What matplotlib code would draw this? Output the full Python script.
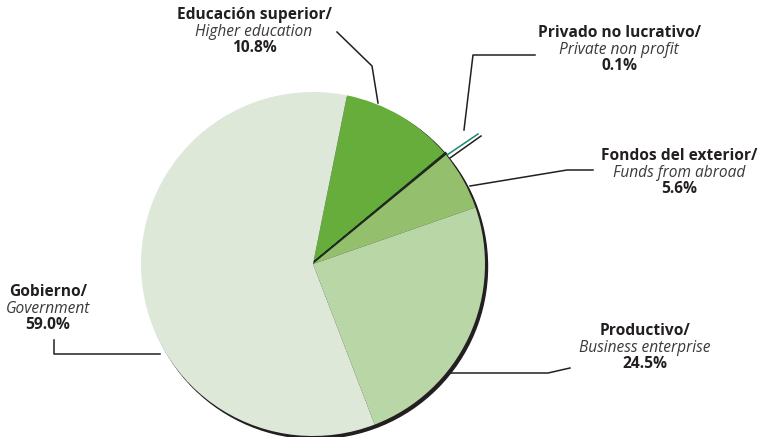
import numpy as np
import matplotlib.pyplot as plt
from matplotlib.patches import Circle

# datos (orden horario desde arriba)
sectores = ['Educación superior/', 'Privado no lucrativo/', 'Fondos del exterior/',
            'Productivo/', 'Gobierno/']
sectores_en = ['Higher education', 'Private non profit', 'Funds from abroad',
               'Business enterprise', 'Government']
valores = [10.8, 0.1, 5.6, 24.5, 59.0]
colores = ['#66ad3b', '#1f2a1f', '#94c06e', '#b8d6a6', '#dde8d9']

W, H = 760, 437
fig = plt.figure(figsize=(W / 100, H / 100), dpi=100)
ax = fig.add_axes([0, 0, 1, 1])

cx, cy, r = 313, H - 264, 172

# sombra oscura abajo/derecha
ax.add_patch(Circle((cx + 2.5, cy - 2.6), r, color='#231f20', zorder=1))

wedges, _ = ax.pie(valores, colors=colores, startangle=78.6, counterclock=False,
                   center=(cx, cy), radius=r, frame=True,
                   wedgeprops=dict(linewidth=0))
for w in wedges:
    w.set_zorder(2)
wedges[1].set_edgecolor('#1f2a1f')
wedges[1].set_linewidth(2.6)
ax.set_xlim(0, W)
ax.set_ylim(0, H)
ax.set_aspect('equal')
ax.axis('off')

def y(p):
    return H - p

# líneas guía
lk = dict(color='#231f20', lw=1.1, zorder=3)
ax.plot([337, 372, 378], [y(32), y(66), y(103)], **lk)
ax.plot([535, 473, 464], [y(55), y(55), y(130)], **lk)
ax.plot([470, 567, 593], [y(186), y(170), y(170)], **lk)
ax.plot([450, 548, 570], [y(373), y(373), y(368)], **lk)
ax.plot([54, 54, 160], [y(340), y(354), y(354)], **lk)
ax.plot([447, 478], [y(155), y(134)], color='#1a8a6e', lw=1.1, zorder=3)
ax.plot([450, 481], [y(158), y(136)], color='#231f20', lw=1.1, zorder=3)

# etiquetas
fam = ['Open Sans', 'DejaVu Sans']
fs = 11.2
pos = [(254, 15), (619, 33), (679, 156), (645, 331), (48, 292)]
for (px, py), es, en, v in zip(pos, sectores, sectores_en, valores):
    ax.text(px, y(py), es, ha='center', va='center', fontsize=fs,
            fontweight='bold', family=fam, color='#231f20')
    ax.text(px, y(py + 17), en, ha='center', va='center', fontsize=fs,
            style='italic', family=fam, color='#3a3a3a')
    ax.text(px, y(py + 33), '{:.1f}%'.format(v), ha='center', va='center',
            fontsize=fs, fontweight='bold', family=fam, color='#231f20')

fig.savefig('out.png', dpi=100)
